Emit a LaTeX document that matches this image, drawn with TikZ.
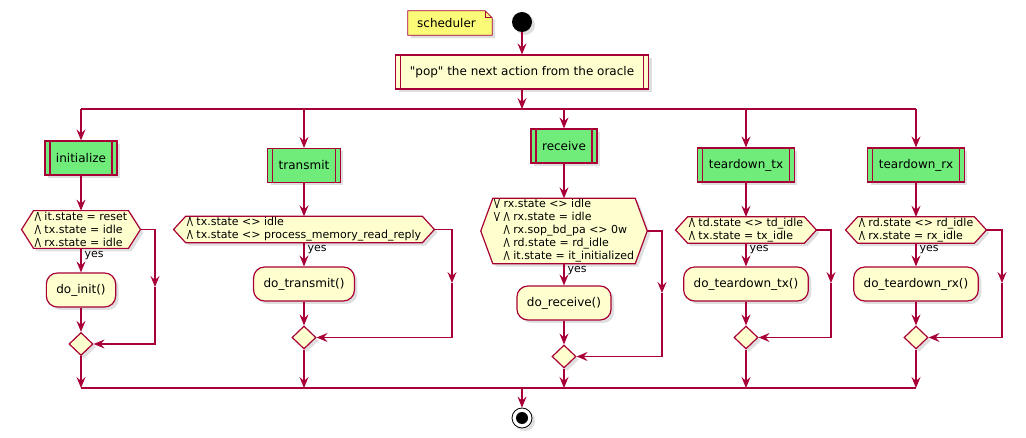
\documentclass[tikz,border=0pt]{standalone}
\usepackage{fontspec}
\setmainfont{DejaVu Sans}[Ligatures=TeXReset]
\usetikzlibrary{arrows.meta,shapes.geometric,shadows,backgrounds}
\usepackage{xcolor}

\definecolor{umlline}{HTML}{A80036}
\definecolor{umlfill}{HTML}{FEFECE}
\definecolor{umlgreen}{HTML}{70EC7A}
\definecolor{umlnote}{HTML}{FBFB77}

\newcommand{\opand}{/\kern-1.2pt\textbackslash}
\newcommand{\opor}{\textbackslash\kern-1.2pt/}
\newcommand{\hexcond}[1]{%
  \begin{scope}[on background layer]
    \filldraw[hexbox] (#1.west) -- ([xshift=12pt]#1.north west) -- ([xshift=-12pt]#1.north east)
      -- (#1.east) -- ([xshift=-12pt]#1.south east) -- ([xshift=12pt]#1.south west) -- cycle;
  \end{scope}}

\begin{document}
\begin{tikzpicture}[x=1pt,y=-1pt]
\useasboundingbox (0,0) rectangle (1026,438);

\tikzset{umlshadow/.style = {drop shadow={shadow xshift=3pt,shadow yshift=-3pt,opacity=0.25}}}
\tikzset{subproc/.style = {shape=rectangle,draw=umlline,fill=umlgreen,line width=1.2pt,minimum height=34pt,inner xsep=11pt,font=\fontsize{12}{14}\selectfont,umlshadow,
  path picture={\draw[umlline,line width=1.2pt] ([xshift=5pt]path picture bounding box.north west) -- ([xshift=5pt]path picture bounding box.south west)
    ([xshift=-5pt]path picture bounding box.north east) -- ([xshift=-5pt]path picture bounding box.south east);}}}
\tikzset{action/.style = {shape=rectangle,rounded corners=11pt,draw=umlline,fill=umlfill,line width=1.2pt,minimum height=34pt,inner xsep=10pt,font=\fontsize{12}{14}\selectfont,umlshadow}}
\tikzset{cond/.style = {shape=rectangle,inner xsep=13pt,inner ysep=1pt,align=left,font=\fontsize{11}{13}\selectfont}}
\tikzset{hexbox/.style = {draw=umlline,fill=umlfill,line width=1.2pt,umlshadow}}
\tikzset{merge/.style = {shape=diamond,aspect=1,draw=umlline,fill=umlfill,line width=1.2pt,minimum width=24pt,minimum height=23pt,inner sep=0pt,umlshadow}}
\tikzset{edge/.style = {-{Stealth[length=11pt,width=9pt,inset=4pt]},draw=umlline,line width=1.2pt}}
\tikzset{bar/.style = {-,draw=umlline,line width=1.2pt}}
\tikzset{yeslabel/.style = {pos=0,anchor=north west,inner xsep=3pt,inner ysep=2pt,font=\fontsize{11}{13}\selectfont}}

% start, note and oracle
\node[shape=circle,fill=black,minimum size=20pt,inner sep=0pt,umlshadow] (start) at (522,22) {};
\node[minimum width=77pt,minimum height=24pt,font=\fontsize{12}{14}\selectfont] (note) at (446.5,23) {scheduler};
\begin{scope}[on background layer]
\filldraw[draw=umlline,fill=umlnote,line width=0.8pt,umlshadow] (note.south west) -- (note.north west) -- (note.north east)
  -- ([xshift=7pt,yshift=-7pt]note.north east) -- ([xshift=7pt]note.south east) -- cycle;
\draw[umlline,line width=0.8pt] (note.north east) -- ([yshift=-7pt]note.north east) -- ([xshift=7pt,yshift=-7pt]note.north east);
\end{scope}
\node[subproc,fill=umlfill,minimum width=253pt] (pop) at (522,72) {"pop" the next action from the oracle};

% split and merge bars
\coordinate (sp) at (522,109);
\coordinate (s1) at (81,109);
\coordinate (s2) at (304,109);
\coordinate (s3) at (564,109);
\coordinate (s4) at (746,109);
\coordinate (s5) at (916,109);
\coordinate (jp) at (522,388);
\coordinate (j1) at (81,388);
\coordinate (j2) at (304,388);
\coordinate (j3) at (564,388);
\coordinate (j4) at (746,388);
\coordinate (j5) at (916,388);

% branches
\node[subproc,minimum width=69pt] (init) at (81,158) {initialize};
\node[subproc,minimum width=71pt] (transmit) at (304,165.5) {transmit};
\node[subproc,minimum width=64pt] (receive) at (564,146) {receive};
\node[subproc,minimum width=96pt] (tdtx) at (746,165) {teardown\_tx};
\node[subproc,minimum width=96pt] (tdrx) at (916,165) {teardown\_rx};

\node[cond] (c1) at (81,229.5) {\opand{} it.state = reset\\\opand{} tx.state = idle\\\opand{} rx.state = idle};
\node[cond] (c2) at (304,229.5) {\opand{} tx.state <> idle\\\opand{} tx.state <> process\_memory\_read\_reply};
\node[cond] (c3) at (564,231) {\opor{} rx.state <> idle\\\opor{} \opand{} rx.state = idle\\\phantom{\opor\ }\opand{} rx.sop\_bd\_pa <> 0w\\\phantom{\opor\ }\opand{} rd.state = rd\_idle\\\phantom{\opor\ }\opand{} it.state = it\_initialized};
\node[cond] (c4) at (746,230) {\opand{} td.state <> td\_idle\\\opand{} tx.state = tx\_idle};
\node[cond] (c5) at (916,230) {\opand{} rd.state <> rd\_idle\\\opand{} rx.state = rx\_idle};
\hexcond{c1}
\hexcond{c2}
\hexcond{c3}
\hexcond{c4}
\hexcond{c5}

\node[action] (doinit) at (81,290) {do\_init()};
\node[action] (dotransmit) at (304,284) {do\_transmit()};
\node[action] (doreceive) at (564,303) {do\_receive()};
\node[action] (dotdtx) at (746,284) {do\_teardown\_tx()};
\node[action] (dotdrx) at (916,284) {do\_teardown\_rx()};

\node[merge] (m1) at (81,344) {};
\node[merge] (m2) at (304,337.5) {};
\node[merge] (m3) at (564,356.5) {};
\node[merge] (m4) at (746,337.5) {};
\node[merge] (m5) at (916,337.5) {};

\coordinate (r1) at (155,287);
\coordinate (r2) at (452,283);
\coordinate (r3) at (662,293);
\coordinate (r4) at (831,283);
\coordinate (r5) at (1002,283);

\node[shape=circle,draw=black,fill=white,line width=0.8pt,minimum size=20pt,inner sep=0pt,umlshadow,
  path picture={\fill[black] (path picture bounding box.center) circle (6pt);}] (stop) at (522,418) {};

%edges
\draw[edge] (start) to (pop);
\draw[edge] (pop) to (sp);
\draw[bar] (s1) to (s5);
\draw[edge] (s1) to (init);
\draw[edge] (s2) to (transmit);
\draw[edge] (s3) to (receive);
\draw[edge] (s4) to (tdtx);
\draw[edge] (s5) to (tdrx);

\draw[edge] (init) to (c1);
\draw[edge] (transmit) to (c2);
\draw[edge] (receive) to (c3);
\draw[edge] (tdtx) to (c4);
\draw[edge] (tdrx) to (c5);

\draw[edge] (c1) to node[yeslabel] {yes} (doinit);
\draw[edge] (c2) to node[yeslabel] {yes} (dotransmit);
\draw[edge] (c3) to node[yeslabel] {yes} (doreceive);
\draw[edge] (c4) to node[yeslabel] {yes} (dotdtx);
\draw[edge] (c5) to node[yeslabel] {yes} (dotdrx);

\draw[edge] (doinit) to (m1);
\draw[edge] (dotransmit) to (m2);
\draw[edge] (doreceive) to (m3);
\draw[edge] (dotdtx) to (m4);
\draw[edge] (dotdrx) to (m5);

\draw[edge] (c1.east) -| (r1);
\draw[edge] (r1) |- (m1.east);
\draw[edge] (c2.east) -| (r2);
\draw[edge] (r2) |- (m2.east);
\draw[edge] (c3.east) -| (r3);
\draw[edge] (r3) |- (m3.east);
\draw[edge] (c4.east) -| (r4);
\draw[edge] (r4) |- (m4.east);
\draw[edge] (c5.east) -| (r5);
\draw[edge] (r5) |- (m5.east);

\draw[edge] (m1) to (j1);
\draw[edge] (m2) to (j2);
\draw[edge] (m3) to (j3);
\draw[edge] (m4) to (j4);
\draw[edge] (m5) to (j5);
\draw[bar] (j1) to (j5);
\draw[edge] (jp) to (stop);
\end{tikzpicture}
\end{document}
